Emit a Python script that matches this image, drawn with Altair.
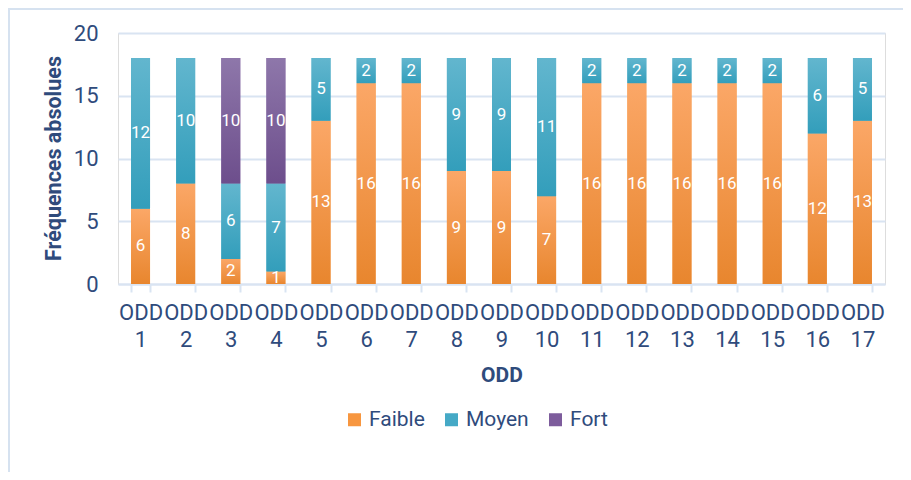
import altair as alt
import pandas as pd

odd = [f"ODD {i}" for i in range(1, 18)]
faible = [6, 8, 2, 1, 13, 16, 16, 9, 9, 7, 16, 16, 16, 16, 16, 12, 13]
moyen = [12, 10, 6, 7, 5, 2, 2, 9, 9, 11, 2, 2, 2, 2, 2, 6, 5]
fort = [0, 0, 10, 10, 0, 0, 0, 0, 0, 0, 0, 0, 0, 0, 0, 0, 0]
series = ["Faible", "Moyen", "Fort"]
colors = ["#F7963F", "#45A9C6", "#7D5C9C"]
grad_top = ["#FBA767", "#62B6CE", "#8E77AA"]
grad_bot = ["#E8862E", "#339EBB", "#6D4E8C"]

rows = []
for s_i, (name, vals) in enumerate(zip(series, [faible, moyen, fort])):
    for o, v in zip(odd, vals):
        if v > 0:
            rows.append({"odd": o, "serie": name, "order": s_i, "value": v})
df = pd.DataFrame(rows)

FONT = "Roboto, sans-serif"
TXT = "#2F4B7C"
GRID = "#D9E4F2"

base = alt.Chart(df).transform_stack(
    stack="value", groupby=["odd"], as_=["y0", "y1"],
    sort=[alt.SortField("order", order="ascending")]
).transform_calculate(mid="(datum.y0 + datum.y1) / 2")

xenc = alt.X("odd:N", sort=odd, title="ODD",
             scale=alt.Scale(paddingInner=0.58, paddingOuter=0.29),
             axis=alt.Axis(labelAngle=0, labelExpr="split(datum.label, ' ')",
                           labelFont=FONT, labelFontSize=22, labelColor=TXT,
                           labelLineHeight=27, labelPadding=10,
                           tickBand="extent", tickColor=GRID, tickSize=8, tickWidth=2,
                           domainColor=GRID, domainWidth=2,
                           titleFont=FONT, titleFontSize=21, titleFontWeight="bold",
                           titleColor=TXT, titlePadding=14))

bars = base.mark_bar().encode(
    x=xenc,
    y=alt.Y("y0:Q", title="Fréquences absolues",
            scale=alt.Scale(domain=[0, 20]),
            axis=alt.Axis(values=[0, 5, 10, 15, 20], ticks=False, domain=False,
                          gridColor=GRID, gridWidth=2,
                          labelFont=FONT, labelFontSize=22, labelColor=TXT, labelPadding=20,
                          titleFont=FONT, titleFontSize=21.5, titleFontWeight="bold", titleColor=TXT,
                          titleX=-64, titleY=125, titleAngle=-90, titleAlign="center",
                          titleBaseline="middle")),
    y2="y1:Q",
    color=alt.Color("serie:N", sort=series,
                    scale=alt.Scale(domain=series, range=colors),
                    legend=alt.Legend(title=None, orient="none", direction="horizontal",
                                      legendX=226, legendY=376, padding=0,
                                      symbolType="square", symbolSize=169, symbolStrokeWidth=0,
                                      labelFont=FONT, labelFontSize=21, labelColor=TXT,
                                      labelOffset=4, columnPadding=16)),
)

layers = [bars]
for name, top, bot in zip(series, grad_top, grad_bot):
    g = alt.Gradient(gradient="linear",
                     stops=[alt.GradientStop(color=top, offset=0),
                            alt.GradientStop(color=bot, offset=1)],
                     x1=0, x2=0, y1=0, y2=1)
    layers.append(
        base.transform_filter(alt.datum.serie == name).mark_bar(color=g).encode(
            x=alt.X("odd:N", sort=odd), y="y0:Q", y2="y1:Q")
    )

labels = base.mark_text(color="white", font=FONT, fontSize=17, baseline="middle").encode(
    x=alt.X("odd:N", sort=odd), y="mid:Q", text="value:Q")
layers.append(labels)

frame = alt.Chart(pd.DataFrame({"a": [0]})).mark_rect(
    fillOpacity=0, fill="white", stroke="#D6E2F0", strokeWidth=2, clip=False).encode(
    x=alt.value(-109), x2=alt.value(800), y=alt.value(-24), y2=alt.value(450))

chart = alt.layer(frame, *layers).properties(
    width=767, height=251,
    autosize=alt.AutoSizeParams(type="none"),
    padding={"left": 110, "top": 25, "right": 18, "bottom": 188},
).configure_view(stroke=None).configure(background="white")

chart.save("out.html", embed_options={"renderer": "svg", "actions": False})
